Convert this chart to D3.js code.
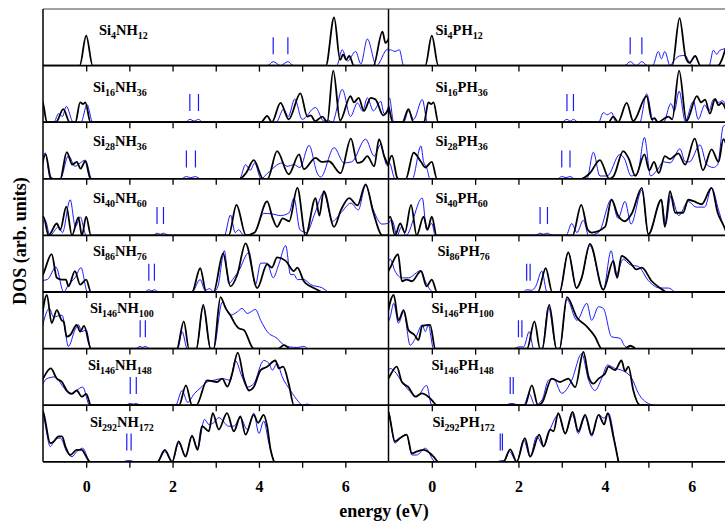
<!DOCTYPE html>
<html>
<head>
<meta charset="utf-8">
<script src="https://cdn.jsdelivr.net/npm/d3@7"></script>
<style>
  body { margin: 0; background: #fff; }
  text { font-family: "Liberation Serif", "Times New Roman", serif; font-weight: bold; }
</style>
</head>
<body>
<svg id="chart"></svg>
<script>
// cluster sizes and hydrogen counts for each row, top to bottom
const siCounts = ["4", "16", "28", "40", "86", "146", "146", "292"];
const hCounts = ["12", "36", "36", "60", "76", "100", "148", "172"];
const dopants = ["N", "P"];
const xTicks = [0, 1, 2, 3, 4, 5, 6];
const xTickLabels = [0, 2, 4, 6];

// impurity levels (eV), the pairs of blue bars
const levelsN = [[4.33, 4.67], [2.4, 2.6], [2.32, 2.53], [1.64, 1.79], [1.45, 1.58], [1.25, 1.37], [1.02, 1.16], [0.94, 1.04]];
const levelsP = [[4.58, 4.85], [3.12, 3.27], [3.0, 3.19], [2.5, 2.67], [2.19, 2.27], [2.0, 2.08], [1.81, 1.88], [1.58, 1.63]];

// DOS curves: [energy, DOS]  (black = doped, blue = second curve)
const blackN = [
  [[-1.05,0],[-0.15,0],[0,0.53],[0.15,0],[5.55,0],[5.74,0.85],[5.88,0.1],[5.95,0.2],[6.02,0.1],[6.09,0.17],[6.2,0],[6.65,0],[6.86,0.6],[6.93,0.4],[7.02,0.5]],
  [[-1.05,0.4],[-1,0.34],[-0.91,0],[-0.7,0],[-0.53,0.23],[-0.38,0],[-0.25,0],[-0.14,0.35],[-0.07,0.32],[-0.02,0.35],[0.1,0],[4.05,0],[4.19,0.11],[4.3,0],[4.5,0.34],[4.69,0.05],[4.96,0.51],[5.12,0.1],[5.2,0.12],[5.3,0.02],[5.47,0.1],[5.58,0],[5.72,0.91],[5.88,0.03],[6.12,0.46],[6.2,0.35],[6.31,0.43],[6.43,0.2],[6.59,0.43],[6.7,0.4],[6.88,0.12],[7.05,0.3]],
  [[-1.05,0.1],[-0.94,0.43],[-0.82,0.02],[-0.76,0],[-0.6,0],[-0.45,0.47],[-0.32,0.25],[-0.22,0.3],[-0.13,0.18],[-0.02,0.31],[0.1,0],[3.55,0],[3.7,0.1],[3.88,0.33],[4.1,0],[4.2,0],[4.42,0.49],[4.69,0.08],[4.93,0.43],[5.04,0.17],[5.31,0.37],[5.45,0.3],[5.62,0.31],[5.89,0.1],[6.13,0.71],[6.28,0.28],[6.4,0.31],[6.51,0.4],[6.67,0.22],[6.78,0.7],[6.9,0.4],[7.02,0.2]],
  [[-1.05,0.25],[-0.99,0.33],[-0.87,0],[-0.68,0.21],[-0.6,0.1],[-0.46,0.51],[-0.33,0],[-0.18,0.32],[-0.1,0],[0,0.33],[0.11,0],[3.3,0],[3.48,0.54],[3.7,0],[3.9,0.05],[4.19,0.6],[4.32,0.3],[4.42,0.15],[4.55,0.3],[4.7,0.25],[4.89,0.84],[5.08,0],[5.31,0.66],[5.4,0.35],[5.5,0.78],[5.74,0.15],[5.9,0.45],[6.09,0.66],[6.28,0.53],[6.47,0.9],[6.65,0.4],[6.86,0],[7.05,0]],
  [[-1.05,0.25],[-1,0.31],[-0.8,0.67],[-0.68,0.25],[-0.57,0.22],[-0.47,0.22],[-0.41,0.1],[-0.26,0.37],[-0.14,0.13],[0,0.22],[0.11,0],[2.45,0],[2.64,0.42],[2.78,0],[2.95,0],[3.17,0.68],[3.34,0.1],[3.5,0.31],[3.69,0.86],[3.96,0.07],[4.19,0.49],[4.3,0.43],[4.42,0.61],[4.62,0.55],[4.81,0.37],[4.89,0.43],[5.04,0.19],[5.19,0.1],[5.35,0.04],[5.45,0]],
  [[-1.05,0.4],[-0.91,0.95],[-0.8,0.45],[-0.68,0.68],[-0.57,0.5],[-0.52,0.47],[-0.45,0.21],[-0.37,0.24],[-0.22,0.42],[-0.14,0.3],[-0.05,0.4],[0.11,0],[2.1,0],[2.26,0.48],[2.38,0],[2.55,0],[2.71,0.77],[2.88,0],[2.95,0],[3.11,0.91],[3.23,0.71],[3.34,0.59],[3.46,0.42],[3.53,0.36],[3.65,0.33],[3.88,0],[4.45,0],[4.58,0.06],[4.7,0]],
  [[-1.05,0.4],[-1,0.47],[-0.82,0.65],[-0.68,0.47],[-0.56,0.41],[-0.45,0.26],[-0.33,0.2],[-0.22,0.26],[-0.1,0.15],[0,0.2],[0.11,0],[2.15,0],[2.31,0.35],[2.45,0],[2.55,0],[2.8,0.44],[3.03,0.41],[3.15,0.47],[3.27,0.33],[3.38,0.56],[3.51,0.93],[3.65,0.47],[3.77,0.26],[3.88,0.32],[4.04,0.62],[4.19,0.68],[4.38,0.79],[4.46,0.65],[4.56,0.68],[4.69,0.38],[4.81,0],[5.0,0]],
  [[-1.05,0.92],[-1,0.89],[-0.83,0.33],[-0.75,0.36],[-0.64,0.45],[-0.56,0.45],[-0.48,0.27],[-0.37,0.12],[-0.22,0.21],[-0.1,0.21],[-0.02,0.12],[0.09,0],[1.65,0],[1.82,0.21],[1.99,0],[2.14,0.36],[2.3,0.09],[2.45,0.46],[2.58,0.21],[2.68,0.63],[2.84,0.54],[2.93,0.86],[3.07,0.57],[3.26,0.86],[3.42,0.54],[3.57,0.8],[3.69,0.48],[3.88,0.83],[3.98,0.69],[4.11,0.83],[4.19,0.63],[4.27,0.21],[4.35,0]]
];
const blueN = [
  [[-1.05,0],[4.2,0],[4.33,0.07],[4.5,0],[4.67,0.07],[4.8,0],[5.8,0],[5.93,0.28],[6.05,0.08],[6.24,0.25],[6.36,0.03],[6.51,0.47],[6.72,0],[6.98,0.29],[7.05,0.25]],
  [[-1.05,0],[-0.75,0],[-0.64,0.15],[-0.55,0.1],[-0.46,0.28],[-0.3,0],[-0.12,0],[0.02,0.31],[0.15,0],[2.3,0],[2.4,0.05],[2.5,0.02],[2.6,0.05],[2.7,0],[4.4,0],[4.57,0.23],[4.68,0.1],[4.83,0.41],[5.0,0.05],[5.31,0.26],[5.5,0.02],[5.6,0.04],[5.7,0],[5.93,0.58],[6.12,0.1],[6.28,0.34],[6.4,0.2],[6.51,0.43],[6.65,0.2],[6.82,0.37],[6.9,0.15],[7.05,0.4]],
  [[-1.05,0.2],[-0.95,0.46],[-0.83,0],[-0.6,0],[-0.41,0.41],[-0.26,0.22],[-0.14,0.28],[-0.02,0.33],[0.13,0],[2.2,0],[2.32,0.04],[2.42,0.02],[2.53,0.04],[2.65,0],[3.55,0],[3.69,0.25],[3.8,0.15],[3.9,0.28],[4.05,0],[4.2,0.1],[4.54,0.28],[4.65,0.22],[4.81,0.25],[4.95,0.2],[5.16,0.59],[5.35,0.1],[5.43,0.03],[5.74,0.55],[5.97,0.28],[6.15,0.3],[6.47,0.7],[6.67,0.4],[6.82,0.61],[6.95,0.25],[7.05,0.2]],
  [[-1.05,0.15],[-0.95,0.27],[-0.84,0],[-0.64,0.15],[-0.55,0.05],[-0.37,0.63],[-0.25,0.15],[-0.14,0.33],[0,0],[1.55,0],[1.64,0.04],[1.72,0.02],[1.79,0.04],[1.9,0],[3.2,0],[3.34,0.36],[3.45,0.05],[3.53,0.1],[3.65,0],[3.9,0.05],[4.11,0.39],[4.3,0.38],[4.5,0.35],[4.7,0.4],[4.81,0.66],[4.95,0.1],[5.1,0.05],[5.3,0.4],[5.5,0.75],[5.7,0.25],[5.9,0.4],[6.13,0.57],[6.3,0.45],[6.47,0.88],[6.65,0.45],[6.85,0.2],[6.98,0.21],[7.05,0.25]],
  [[-1.05,0.2],[-0.9,0.22],[-0.7,0.44],[-0.52,0],[-0.41,0.13],[-0.26,0.25],[-0.12,0.43],[0.03,0],[1.35,0],[1.45,0.04],[1.52,0.02],[1.58,0.04],[1.68,0],[2.45,0],[2.64,0.22],[2.75,0.03],[2.86,0.06],[2.95,0],[3.05,0.1],[3.2,0.73],[3.3,0.15],[3.42,0.25],[3.53,0.37],[3.77,0.7],[3.92,0.13],[4.04,0.51],[4.19,0.51],[4.33,0.25],[4.46,0.49],[4.62,0.82],[4.73,0.31],[4.81,0.31],[4.89,0.22],[5.04,0.22],[5.2,0.13],[5.47,0.07],[5.6,0]],
  [[-1.05,0.27],[-0.85,0.71],[-0.76,0.56],[-0.56,0.59],[-0.41,0.04],[-0.26,0.33],[-0.18,0.42],[-0.1,0.3],[0,0.33],[0.11,0],[1.15,0],[1.25,0.04],[1.31,0.02],[1.37,0.04],[1.47,0],[2.12,0],[2.22,0.3],[2.34,0],[2.55,0],[2.71,0.74],[2.88,0],[2.95,0],[3.15,0.82],[3.34,0.59],[3.5,0.65],[3.61,0.71],[3.73,0.62],[3.92,0.69],[4.04,0.5],[4.19,0.3],[4.42,0.18],[4.58,0.06],[4.7,0.03],[4.9,0.02],[5.04,0.04],[5.12,0]],
  [[-1.05,0.3],[-0.91,0.47],[-0.72,0.5],[-0.53,0.32],[-0.37,0.2],[-0.23,0.26],[-0.08,0.32],[0.08,0],[0.9,0],[1.02,0.03],[1.09,0.02],[1.16,0.03],[1.26,0],[2.07,0],[2.22,0.26],[2.35,0.05],[2.5,0.2],[2.64,0.3],[2.8,0.41],[2.95,0.44],[3.15,0.47],[3.34,0.44],[3.45,0.79],[3.61,0.5],[3.73,0.32],[3.88,0.38],[4.11,0.79],[4.23,0.74],[4.31,0.62],[4.42,0.74],[4.54,0.5],[4.73,0.26],[4.92,0.06],[5.0,0],[5.12,0.02],[5.2,0]],
  [[-1.05,0.9],[-1,0.83],[-0.83,0.27],[-0.72,0.39],[-0.6,0.42],[-0.45,0.18],[-0.33,0.09],[-0.22,0.18],[-0.08,0.24],[0.09,0],[0.85,0],[0.94,0.02],[1.04,0.02],[1.12,0],[1.65,0],[1.82,0.18],[1.99,0],[2.14,0.33],[2.3,0.12],[2.45,0.45],[2.58,0.24],[2.74,0.75],[2.84,0.66],[2.95,0.69],[3.07,0.78],[3.3,0.63],[3.42,0.63],[3.57,0.78],[3.73,0.57],[3.88,0.86],[4.0,0.5],[4.11,0.72],[4.23,0.33],[4.35,0]]
];
const blackP = [
  [[-1.05,0],[-0.15,0],[0,0.53],[0.15,0],[5.55,0],[5.72,0.84],[5.86,0.15],[5.95,0.05],[6.08,0.17],[6.2,0],[6.6,0],[6.8,0.35]],
  [[-1.05,0.35],[-1,0.28],[-0.9,0],[-0.68,0],[-0.54,0.23],[-0.42,0],[-0.18,0],[-0.08,0.35],[-0.01,0.32],[0.04,0.35],[0.15,0],[4.08,0],[4.19,0.1],[4.3,0],[4.5,0.34],[4.65,0.02],[4.96,0.46],[5.08,0.05],[5.14,0.07],[5.22,0],[5.46,0.1],[5.55,0.05],[5.71,0.91],[5.88,0.02],[6.12,0.46],[6.22,0.35],[6.31,0.4],[6.42,0.15],[6.54,0.41],[6.62,0.3],[6.69,0.34],[6.8,0.2]],
  [[-1.05,0.1],[-0.92,0.41],[-0.8,0.02],[-0.77,0],[-0.6,0],[-0.42,0.46],[-0.25,0.3],[-0.15,0.2],[0,0.3],[0.12,0],[3.45,0],[3.65,0.1],[3.88,0.33],[4.1,0],[4.2,0.05],[4.42,0.49],[4.55,0.35],[4.7,0.05],[4.91,0.43],[5.02,0.15],[5.13,0.3],[5.24,0.1],[5.38,0.4],[5.5,0.35],[5.69,0.45],[5.85,0.25],[6.07,0.71],[6.26,0.15],[6.46,0.52],[6.62,0.3],[6.73,0.7],[6.8,0.6]],
  [[-1.05,0.2],[-0.96,0.33],[-0.85,0],[-0.73,0.21],[-0.62,0.05],[-0.48,0.54],[-0.35,0],[-0.19,0.33],[-0.1,0.1],[0,0.33],[0.11,0],[3.25,0],[3.45,0.54],[3.6,0.1],[3.69,0.05],[4.0,0.15],[4.15,0.63],[4.3,0.35],[4.46,0.25],[4.62,0.39],[4.85,0.84],[5.0,0.02],[5.3,0.63],[5.38,0.15],[5.5,0.78],[5.62,0.4],[5.8,0.4],[5.92,0.63],[6.06,0.6],[6.23,0.55],[6.46,0.84],[6.6,0.4],[6.75,0.15],[6.8,0.05]],
  [[-1.05,0.3],[-0.96,0.43],[-0.78,0.67],[-0.69,0.19],[-0.58,0.22],[-0.46,0.19],[-0.25,0.37],[-0.12,0.1],[0,0.22],[0.12,0],[2.45,0],[2.63,0.42],[2.78,0],[2.95,0],[3.15,0.7],[3.34,0.07],[3.46,0.25],[3.65,0.85],[3.96,0.04],[4.19,0.55],[4.28,0.25],[4.38,0.64],[4.58,0.52],[4.72,0.4],[4.85,0.43],[5.08,0.19],[5.27,0.07],[5.4,0]],
  [[-1.05,0.5],[-0.88,0.95],[-0.77,0.5],[-0.65,0.68],[-0.54,0.33],[-0.4,0.24],[-0.31,0.15],[-0.22,0.4],[-0.04,0.42],[0.08,0],[2.2,0],[2.37,0.48],[2.5,0],[2.55,0],[2.71,0.77],[2.88,0],[2.95,0],[3.12,0.91],[3.35,0.55],[3.58,0.39],[3.77,0.21],[3.92,0],[4.45,0],[4.58,0.05],[4.7,0]],
  [[-1.05,0.4],[-0.96,0.53],[-0.81,0.68],[-0.69,0.41],[-0.54,0.32],[-0.38,0.15],[-0.23,0.21],[-0.08,0.15],[0,0.09],[0.12,0],[2.15,0],[2.31,0.35],[2.45,0],[2.55,0.05],[2.77,0.47],[2.96,0.41],[3.15,0.47],[3.31,0.32],[3.5,0.94],[3.62,0.5],[3.73,0.38],[3.85,0.47],[4.0,0.56],[4.08,0.68],[4.23,0.62],[4.38,0.79],[4.46,0.6],[4.54,0.68],[4.65,0.27],[4.81,0],[5.0,0]],
  [[-1.05,0.92],[-1,0.87],[-0.85,0.36],[-0.73,0.42],[-0.58,0.48],[-0.46,0.15],[-0.35,0.18],[-0.19,0.21],[-0.04,0.15],[0.04,0.09],[0.15,0],[1.65,0],[1.81,0.22],[1.96,0],[2.15,0.42],[2.27,0.09],[2.48,0.48],[2.58,0.27],[2.73,0.57],[2.81,0.54],[2.92,0.86],[3.08,0.5],[3.25,0.88],[3.38,0.54],[3.54,0.83],[3.69,0.48],[3.85,0.83],[3.98,0.66],[4.06,0.86],[4.19,0.45],[4.31,0]]
];
const blueP = [
  [[-1.05,0.2],[-0.96,0.28],[-0.85,0.25],[-0.75,0.28],[-0.65,0],[4.45,0],[4.58,0.07],[4.72,0],[4.85,0.07],[4.98,0],[5.1,0],[5.23,0.25],[5.3,0.12],[5.38,0.25],[5.5,0],[5.6,0.1],[5.72,0.17],[5.85,0.18],[5.95,0.05],[6.05,0],[6.4,0],[6.5,0.27],[6.58,0.2],[6.65,0.27],[6.8,0.3]],
  [[-1.05,0.43],[-0.98,0.43],[-0.88,0],[-0.65,0],[-0.54,0.2],[-0.42,0.05],[-0.22,0.4],[-0.1,0],[3.0,0],[3.12,0.05],[3.2,0.02],[3.27,0.05],[3.38,0],[3.85,0],[3.96,0.17],[4.05,0.13],[4.15,0.17],[4.25,0],[4.8,0],[4.96,0.5],[5.12,0],[5.35,0],[5.52,0.33],[5.6,0.2],[5.71,0.55],[5.85,0.02],[6.04,0.37],[6.15,0.05],[6.3,0.3],[6.4,0.2],[6.5,0.4],[6.62,0.35],[6.72,0.38],[6.8,0.2]],
  [[-1.05,0.15],[-0.98,0.28],[-0.85,0],[-0.45,0],[-0.25,0.58],[-0.19,0.3],[-0.12,0.2],[-0.04,0],[2.9,0],[3.0,0.04],[3.1,0.02],[3.19,0.04],[3.3,0],[3.58,0],[3.73,0.47],[3.88,0.05],[4.05,0.05],[4.34,0.43],[4.45,0.35],[4.6,0.05],[4.75,0.1],[4.91,0.73],[5.05,0.05],[5.2,0.15],[5.35,0.3],[5.5,0.28],[5.73,0.53],[5.85,0.3],[5.95,0.3],[6.19,0.6],[6.35,0.25],[6.5,0.2],[6.6,0.25],[6.73,0.93],[6.8,0.95]],
  [[-1.05,0.15],[-0.92,0.27],[-0.8,0],[-0.7,0.15],[-0.6,0],[-0.22,0.66],[-0.12,0.1],[0,0.21],[0.08,0],[2.4,0],[2.5,0.04],[2.58,0.02],[2.67,0.04],[2.78,0],[3.1,0],[3.23,0.21],[3.35,0.05],[3.5,0.27],[3.62,0],[3.85,0.05],[4.15,0.64],[4.3,0.3],[4.46,0.6],[4.6,0.2],[4.85,0.8],[5.0,0.02],[5.3,0.63],[5.4,0.2],[5.52,0.7],[5.7,0.35],[5.92,0.6],[6.1,0.5],[6.3,0.5],[6.46,0.84],[6.62,0.45],[6.75,0.15],[6.8,0.1]],
  [[-1.05,0.4],[-0.96,0.58],[-0.85,0.37],[-0.69,0.25],[-0.54,0.25],[-0.25,0.38],[-0.15,0.19],[0.04,0],[2.1,0],[2.19,0.04],[2.3,0.03],[2.4,0.1],[2.54,0.37],[2.66,0],[2.95,0],[3.15,0.7],[3.34,0.07],[3.46,0.25],[3.65,0.82],[3.96,0.04],[4.14,0.73],[4.25,0.3],[4.42,0.58],[4.58,0.48],[4.77,0.45],[5.0,0.2],[5.27,0.07],[5.46,0.07],[5.6,0]],
  [[-1.05,0.4],[-0.96,0.56],[-0.88,0.8],[-0.77,0.45],[-0.65,0.65],[-0.5,0.06],[-0.38,0.18],[-0.22,0.42],[-0.15,0.3],[-0.08,0.42],[0.04,0],[1.9,0],[2.0,0.03],[2.12,0.03],[2.25,0.3],[2.35,0],[2.55,0],[2.69,0.74],[2.88,0],[2.95,0],[3.12,0.87],[3.35,0.5],[3.58,0.8],[3.69,0.5],[3.85,0.74],[3.96,0.71],[4.15,0.21],[4.35,0.18],[4.46,0.04],[4.6,0]],
  [[-1.05,0.55],[-0.96,0.65],[-0.85,0.59],[-0.69,0.41],[-0.46,0.21],[-0.35,0.15],[-0.12,0.35],[0,0],[1.7,0],[1.81,0.03],[1.88,0.03],[2.0,0],[2.12,0],[2.25,0.2],[2.38,0],[2.55,0.1],[2.69,0.44],[2.81,0.47],[3.0,0.21],[3.23,0.44],[3.46,0.91],[3.62,0.44],[3.77,0.26],[3.92,0.47],[4.06,0.71],[4.23,0.65],[4.38,0.62],[4.62,0.47],[4.77,0.21],[5.0,0.03],[5.15,0]],
  [[-1.05,0.95],[-1,0.9],[-0.85,0.33],[-0.73,0.42],[-0.58,0.48],[-0.46,0.12],[-0.35,0.12],[-0.15,0.24],[0.08,0],[1.5,0],[1.6,0.02],[1.68,0.02],[1.79,0.18],[1.96,0],[2.12,0.39],[2.27,0.09],[2.42,0.45],[2.58,0.27],[2.73,0.57],[2.92,0.83],[3.08,0.5],[3.25,0.83],[3.38,0.5],[3.54,0.8],[3.69,0.45],[3.85,0.83],[3.98,0.77],[4.08,0.86],[4.23,0.33],[4.31,0]]
];

const width = 725, height = 526;
const top0 = 9, rowH = 56.6;
const cols = [
  {x0: 43, x1: 388.5, dop: dopants[0], black: blackN, blue: blueN, levels: levelsN, labelDx: [56, 50, 50, 50, 50, 47, 45, 47]},
  {x0: 388.5, x1: 735, dop: dopants[1], black: blackP, blue: blueP, levels: levelsP, labelDx: [47, 47, 47, 47, 49, 43, 43, 44]}
];
const labelDy = [26, 26, 24, 24, 21, 21, 21, 22];
const blue = "#1a1aff";

const svg = d3.select("#chart").attr("width", width).attr("height", height);
const defs = svg.append("defs");

cols.forEach((c, ci) => {
  const x = d3.scaleLinear().domain([-1, 7]).range([c.x0, c.x1]);

  siCounts.forEach((si, i) => {
    const y0 = top0 + i * rowH, y1 = y0 + rowH;
    const y = d3.scaleLinear().domain([0, 1]).range([y1, y0]);
    const clipId = `clip-${ci}-${i}`;
    defs.append("clipPath").attr("id", clipId)
      .append("rect").attr("x", c.x0).attr("y", y0).attr("width", c.x1 - c.x0).attr("height", rowH);

    const g = svg.append("g");
    const line = d3.line().x(d => x(d[0])).y(d => y(d[1])).curve(d3.curveMonotoneX);
    const plot = g.append("g").attr("clip-path", `url(#${clipId})`);

    plot.append("path").attr("d", line(c.blue[i]))
      .attr("fill", "none").attr("stroke", blue).attr("stroke-width", 1);
    plot.append("path").attr("d", line(c.black[i]))
      .attr("fill", "none").attr("stroke", "#000").attr("stroke-width", 1.8);

    // impurity level bars
    plot.selectAll("line.lvl").data(c.levels[i]).join("line")
      .attr("x1", d => x(d)).attr("x2", d => x(d))
      .attr("y1", y(0.2)).attr("y2", y(0.5))
      .attr("stroke", blue).attr("stroke-width", 1.2);

    // label
    const t = g.append("text").attr("x", c.x0 + c.labelDx[i]).attr("y", y0 + labelDy[i])
      .style("font-size", "14.5px");
    t.append("tspan").text("Si");
    t.append("tspan").attr("dy", 4).style("font-size", "10px").text(si);
    t.append("tspan").attr("dy", -4).text(c.dop + "H");
    t.append("tspan").attr("dy", 4).style("font-size", "10px").text(hCounts[i]);

    // ticks hanging below each row
    const axis = d3.axisBottom(x).tickValues(xTicks).tickSize(6)
      .tickFormat(d => (i === siCounts.length - 1 && xTickLabels.includes(d)) ? d : "");
    const ag = g.append("g").attr("transform", `translate(0,${y1})`).call(axis);
    ag.select(".domain").remove();
    ag.selectAll(".tick line").attr("stroke-width", 1.3);
    ag.selectAll(".tick text").attr("y", 19).style("font-size", "16px")
      .style("font-family", "'Liberation Serif', serif").style("font-weight", "bold");

    // frame
    g.append("line").attr("x1", c.x0).attr("x2", c.x1).attr("y1", y1).attr("y2", y1)
      .attr("stroke", "#000").attr("stroke-width", 1.8);
  });

  svg.append("line").attr("x1", c.x0).attr("x2", c.x0)
    .attr("y1", top0).attr("y2", top0 + rowH * siCounts.length)
    .attr("stroke", "#000").attr("stroke-width", 1.5);
});

svg.append("line").attr("x1", 43).attr("x2", 735).attr("y1", top0).attr("y2", top0)
  .attr("stroke", "#444").attr("stroke-width", 1.2);

svg.append("text").attr("x", 384).attr("y", 517).attr("text-anchor", "middle")
  .style("font-size", "18px").text("energy (eV)");

svg.append("text").attr("transform", `translate(26,241) rotate(-90)`).attr("text-anchor", "middle")
  .style("font-size", "18px").text("DOS (arb. units)");
</script>
</body>
</html>
